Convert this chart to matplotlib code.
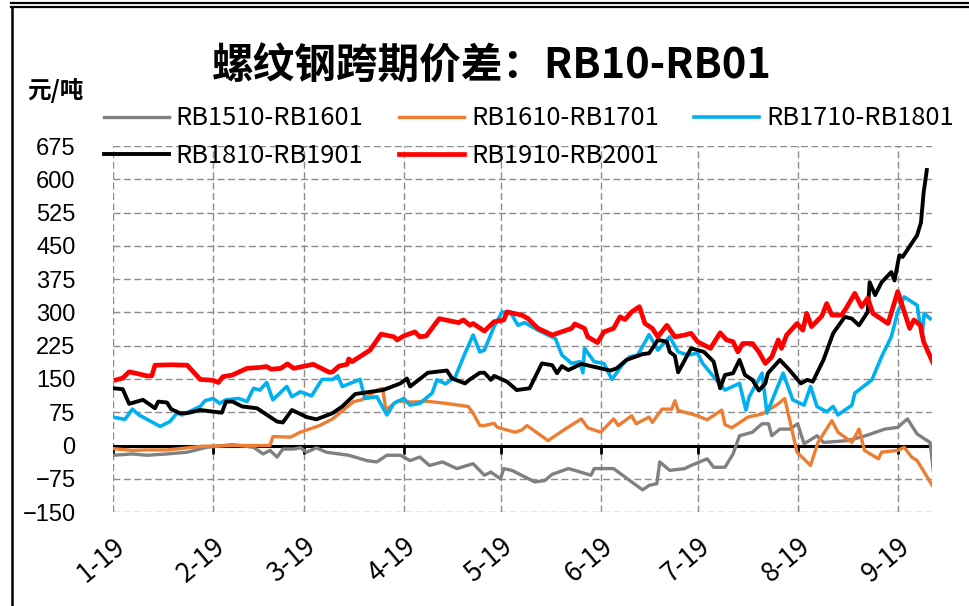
"""
螺纹钢跨期价差：RB10-RB01
"""

import numpy as np
import pandas as pd
import matplotlib
matplotlib.use('Agg')
import matplotlib.pyplot as plt
from matplotlib.lines import Line2D

plt.rcParams['font.family'] = ['Noto Sans CJK SC', 'DejaVu Sans']
plt.rcParams['axes.unicode_minus'] = True

# days counted from 1 January, values in 元/吨
gray_days = [0, 6, 10.5, 16.7, 23, 29, 37, 43.5, 46.5, 48.6, 50.8, 52.6, 56, 58, 60, 63, 66, 73, 78.6,
             81.7, 84.8, 89, 92, 95, 98, 102, 106.5, 111.5, 115, 117, 120, 121, 123.5, 130.6, 133.7,
             136, 141, 143, 148, 149, 155, 160.6, 164, 166, 168.4, 169.3, 172.4, 177, 179, 184, 186,
             189.5, 192, 194, 198, 201, 203, 204, 206.5, 209.6, 212, 214, 218, 220, 227.5, 233, 239,
             243, 246, 249, 253, 254]
gray_vals = [-22, -19, -22, -19, -15, -4, 2, -4, -19, -11, -26, -8, -8, -5, -15, -5, -15, -22, -34,
             -37, -22, -22, -34, -26, -45, -37, -52, -41, -67, -60, -75, -52, -56, -82, -79,
             -65, -52, -56, -67, -52, -52, -82, -100, -90, -86, -37, -56, -52, -45, -30, -49,
             -49, -19, 22, 30, 49, 49, 22, 37, 37, 49, 4, 22, 7, 11, 22, 37,
             41, 60, 26, 7, -56]

orange_days = [0, 6, 10, 16.7, 22, 27, 37, 48.6, 49.5, 55, 58, 64, 68, 73, 74.5, 77, 82, 83.5, 84.5,
               88, 93, 97, 103, 110, 111.5, 113.6, 115, 118, 119, 124.5, 126.6, 128.2, 134.7, 140,
               145, 147, 151, 155, 156.5, 160.6, 162, 166, 167, 170, 173, 174, 175, 181, 184, 188.5,
               189.5, 191.6, 196.6, 201, 206, 208, 209.6, 211.8, 216, 218.3, 222.6, 224.5, 228.8,
               231, 232.7, 237, 238, 243, 245, 247.3, 249, 251.2, 254]
orange_vals = [-7, -11, -10, -10, -6, -2, 0, 0, 20, 19, 30, 45, 60, 90, 99, 103, 125, 129, 80,
               100, 98, 100, 95, 88, 73, 45, 45, 50, 41, 30, 35, 45, 11, 37,
               60, 40, 30, 60, 45, 67, 49, 64, 52, 82, 82, 101, 79, 67, 58, 80,
               47, 40, 64, 71, 94, 106, 56, -15, -45, 7, 56, 30, 7,
               37, -11, -30, -15, -11, -4, -26, -34, -60, -94]

blue_days = [0, 3.7, 6, 8, 14.6, 17.6, 19.8, 21.4, 27, 28.5, 31, 33, 35, 39, 41.5, 43.5, 45.5, 47.6,
             49.5, 53.8, 55.4, 58, 61.5, 64.7, 68, 69.6, 71, 76.5, 78, 81.7, 84.8, 87, 90, 92, 95,
             98.8, 100.3, 103, 106, 109, 111.5, 113.6, 115, 118, 120.5, 123, 125.4, 127.5, 131.6,
             137, 139, 142, 144.6, 145.5, 146, 149, 152, 154.5, 157.6, 160, 162.5, 166, 168.7,
             172.4, 175, 178, 181, 182.6, 186, 189.5, 194, 196, 197, 201, 202.5, 207.5, 210.5,
             214, 216, 218, 221, 223, 224.5, 228.8, 229.7, 235, 238, 241, 243, 245, 249, 250.5,
             251.2, 253]
blue_vals = [64, 59, 82, 69, 43, 54, 73, 69, 88, 101, 106, 95, 103, 106, 99, 129, 125, 142,
             103, 133, 110, 121, 112, 149, 149, 157, 133, 149, 106, 110, 69, 95, 106, 91, 95,
             118, 148, 139, 155, 208, 249, 211, 215, 268, 301, 301, 271, 277, 260,
             241, 204, 185, 189, 164, 219, 189, 185, 149, 181, 200, 204, 250, 215,
             245, 211, 204, 208, 185, 155, 125, 140, 80, 110, 163, 73, 163, 103,
             91, 133, 88, 76, 88, 69, 91, 118, 148, 200, 245, 301, 335, 316, 245,
             298, 286]

black_days = [0, 3, 5, 9.3, 13, 14, 16.7, 18, 20.7, 23, 27, 33.7, 35, 37, 40, 44.6, 50.8, 52.6,
              55.4, 60, 63, 68, 71, 75, 79.6, 83.6, 89, 91, 92, 97.5, 103.4, 105, 109, 110.5,
              113.6, 115, 117, 118, 122, 125, 129, 132.8, 136, 137.5, 139, 141, 145, 151, 154,
              156, 159, 164, 166, 168, 168.7, 171.5, 172.4, 174, 175, 179, 183, 186, 188, 189.5,
              192, 194, 195.7, 198, 200, 202, 202.8, 206.5, 209, 213, 215, 216.7, 220, 223,
              226.6, 228.8, 231, 233.7, 234.3, 236, 238, 241, 242, 243.5, 244.5, 249, 250.2,
              251, 252]
black_vals = [129, 127, 94, 103, 84, 99, 97, 82, 73, 73, 80, 74, 99, 99, 88, 84, 54, 52,
              80, 64, 59, 73, 88, 116, 121, 125, 140, 151, 133, 164, 169, 151, 140, 149,
              164, 164, 148, 157, 144, 125, 129, 185, 181, 163, 179, 170, 184, 174, 169,
              174, 193, 206, 208, 230, 238, 234, 211, 202, 165, 219, 211, 189, 129, 159,
              163, 193, 159, 148, 124, 140, 163, 193, 174, 140, 148, 144, 193, 253,
              290, 286, 271, 301, 368, 339, 368, 391, 372, 429, 425, 474, 503,
              569, 621]

red_days = [1, 3, 5, 7, 10.5, 12, 13, 18, 23, 27, 31, 32.6, 34, 37, 41.5, 45.5, 47.5, 49, 52, 54,
            56, 62, 67, 68, 70, 72.5, 73, 74, 79.6, 83, 87, 88, 90, 93.5, 95, 97, 101, 107, 108.5,
            110.5, 111.5, 115, 118, 121, 122, 126.6, 128.5, 131.6, 136, 142, 143, 146, 147, 150,
            152, 155, 157, 158.5, 160.6, 163, 164.7, 167, 168.7, 171.5, 174, 177, 179, 181, 185,
            188, 190, 192, 193.5, 195, 198, 200, 202, 204, 206, 207, 208.6, 211.8, 213.6, 214.8,
            216.3, 219.5, 221, 222.6, 225.6, 227, 229.7, 231.8, 233.7, 235.3, 240, 243, 246.7,
            248, 250, 251, 254]
red_vals = [148, 152, 166, 163, 157, 157, 181, 182, 181, 149, 147, 142, 155, 159, 174, 176, 178, 172,
            174, 184, 174, 183, 165, 166, 179, 183, 195, 189, 215, 251, 245, 238, 247, 256, 245,
            247, 286, 277, 283, 271, 275, 258, 279, 283, 301, 294, 286, 264, 249, 264, 274, 264,
            245, 232, 256, 264, 290, 284, 301, 313, 275, 264, 245, 271, 245, 249, 253, 234, 219,
            254, 238, 234, 211, 230, 230, 211, 185, 200, 238, 219, 249, 275, 260, 298, 268, 292,
            320, 294, 294, 309, 343, 313, 332, 298, 275, 347, 264, 283, 271, 234, 185]

series_names = ['RB1510-RB1601', 'RB1610-RB1701', 'RB1710-RB1801', 'RB1810-RB1901', 'RB1910-RB2001']
months = [1, 2, 3, 4, 5, 6, 7, 8, 9]
month_labels = [f'{m}-19' for m in months]
yticks = list(range(-150, 676, 75))

start = pd.Timestamp('2019-01-01')


def to_dates(days):
    return start + pd.to_timedelta(np.array(days), unit='D')


def main():
    fig = plt.figure(figsize=(9.7, 6.06), dpi=100)
    ax = fig.add_axes([0.1165, 0.155, 0.8443, 0.604])

    month_dates = [pd.Timestamp(2019, m, 1) for m in months]

    ax.axhline(0, color='black', lw=2.2, zorder=2)
    ax.plot(month_dates, np.zeros(len(months)), ls='none', marker=3, ms=6, mew=2,
            color='black', zorder=2)

    l1, = ax.plot(to_dates(gray_days), gray_vals, color='#808080', lw=2.4, zorder=3)
    l2, = ax.plot(to_dates(orange_days), orange_vals, color='#ED7D31', lw=2.4, zorder=3)
    l3, = ax.plot(to_dates(blue_days), blue_vals, color='#00B0F0', lw=2.6, zorder=3)
    l4, = ax.plot(to_dates(black_days), black_vals, color='black', lw=2.8, zorder=4)
    l5, = ax.plot(to_dates(red_days), red_vals, color='#FF0000', lw=3.4, zorder=5)

    ax.set_xlim(start, start + pd.Timedelta(days=253.6))
    ax.set_ylim(-150, 675)
    ax.set_yticks(yticks)
    ax.set_xticks(month_dates)
    ax.set_xticklabels(month_labels, fontsize=19, rotation=40, ha='right',
                       rotation_mode='anchor')
    for t in ax.get_yticklabels():
        t.set_fontfamily('Liberation Sans')
        t.set_fontsize(17)
    ax.tick_params(axis='y', length=0, pad=27)
    ax.tick_params(axis='x', length=0, pad=15)
    ax.grid(True, color='#8c8c8c', linestyle=(0, (5, 2.5)), lw=1.0, zorder=0)
    for s in ax.spines.values():
        s.set_visible(False)

    handles = [l1, l4, l2, l5, l3]
    labels = [series_names[0], series_names[3], series_names[1], series_names[4], series_names[2]]
    fig.legend(handles, labels, loc='upper left', bbox_to_anchor=(0.107, 0.826), ncol=3,
               frameon=False, fontsize=18.3, handlelength=2.55, handletextpad=0.28,
               columnspacing=1.4, labelspacing=0.45, borderpad=0, borderaxespad=0)

    fig.text(0.507, 0.89, '螺纹钢跨期价差：RB10-RB01', ha='center', va='center',
             fontsize=30, fontweight='bold')
    fig.text(0.028, 0.851, '元/吨', ha='left', va='center', fontsize=17, fontweight='bold')

    # outer frame
    fig.add_artist(Line2D([0.0113, 1], [0.9958, 0.9958], color='black', lw=1.6))
    fig.add_artist(Line2D([0.0113, 1], [0.9892, 0.9892], color='black', lw=1.6))
    fig.add_artist(Line2D([0.0119, 0.0119], [0, 0.9892], color='black', lw=1.8))

    fig.savefig('out.png', dpi=100)


if __name__ == '__main__':
    main()
